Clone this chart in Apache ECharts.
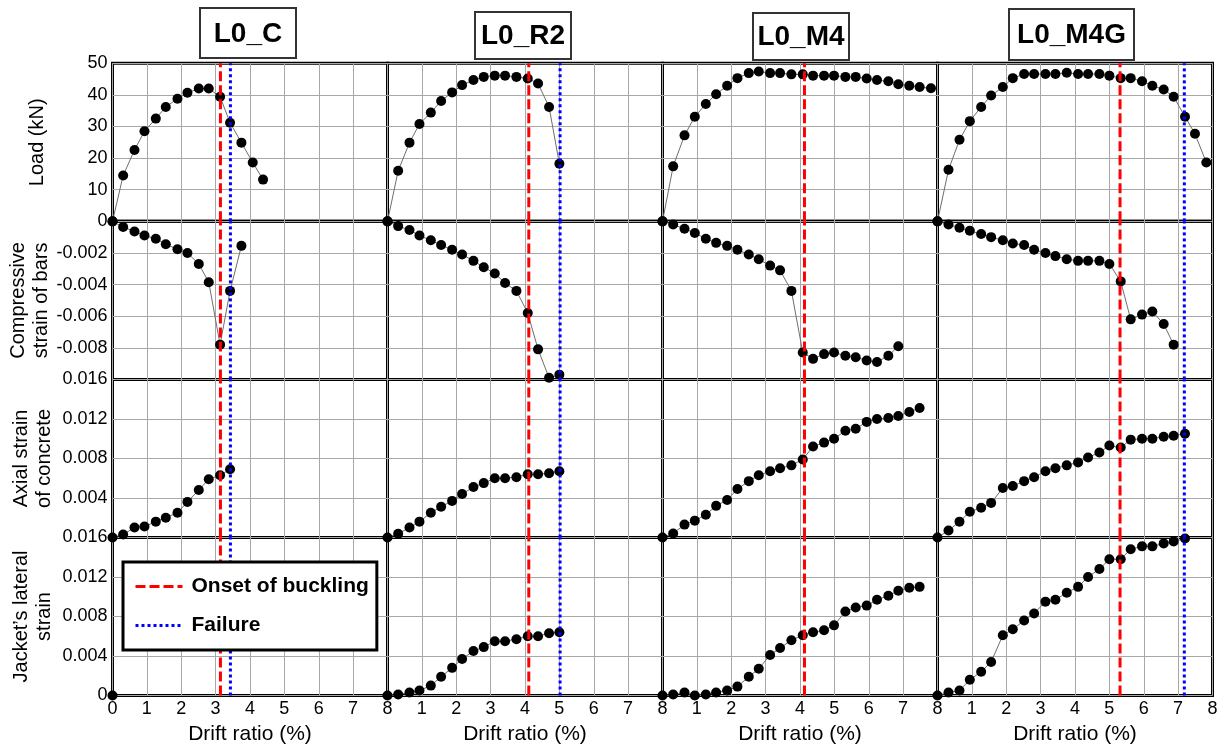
<!DOCTYPE html>
<html><head><meta charset="utf-8">
<script src="https://cdn.jsdelivr.net/npm/echarts@6/dist/echarts.min.js"></script>
<style>html,body{margin:0;padding:0;background:#fff}#c{width:1225px;height:753px}</style>
</head><body><div id="c"></div><script>
// ---------- data ----------
const specimens = ['L0_C', 'L0_R2', 'L0_M4', 'L0_M4G'];
const rowNames = ['Load (kN)', 'Compressive\nstrain of bars', 'Axial strain\nof concrete', 'Jacket\u2019s lateral\nstrain'];
const xTicks = [0, 1, 2, 3, 4, 5, 6, 7, 8];

const driftC = [0, 0.31, 0.64, 0.93, 1.26, 1.55, 1.89, 2.18, 2.51, 2.80, 3.13, 3.42, 3.75, 4.08, 4.38];
const loadC = [0, 14.5, 22.6, 28.5, 32.5, 36.2, 38.8, 40.7, 42.0, 42.0, 39.4, 31.2, 24.9, 18.6, 13.2];
const barC = [0, -0.00036, -0.00064, -0.0009, -0.0011, -0.00145, -0.00176, -0.002, -0.0027, -0.00385, -0.0078, -0.0044, -0.00155];
const concC = [0, 0.0003, 0.001, 0.0011, 0.0016, 0.002, 0.0025, 0.0036, 0.0048, 0.0059, 0.0063, 0.0069];
const jackC = [0];

const driftR2 = [0, 0.31, 0.64, 0.93, 1.26, 1.56, 1.88, 2.17, 2.50, 2.80, 3.12, 3.42, 3.75, 4.08, 4.38, 4.70, 5.00];
const loadR2 = [0, 16.0, 24.9, 30.8, 34.4, 38.1, 40.8, 43.1, 44.7, 45.7, 46.1, 46.1, 45.7, 45.2, 43.6, 36.2, 18.2];
const barR2 = [0, -0.0003, -0.00055, -0.0009, -0.0012, -0.0015, -0.0018, -0.0021, -0.0025, -0.0029, -0.0033, -0.0039, -0.0044, -0.0058, -0.0081, -0.0099, -0.0097];
const concR2 = [0, 0.00037, 0.001, 0.0016, 0.0025, 0.0031, 0.0037, 0.0044, 0.0051, 0.0055, 0.0060, 0.0060, 0.0061, 0.0064, 0.0064, 0.0065, 0.0067];
const jackR2 = [0, 0.0001, 0.0003, 0.0005, 0.001, 0.0019, 0.0028, 0.0037, 0.0045, 0.0049, 0.0055, 0.0055, 0.0057, 0.006, 0.006, 0.0063, 0.0064];

const driftM4 = [0, 0.31, 0.64, 0.94, 1.26, 1.56, 1.88, 2.18, 2.51, 2.80, 3.13, 3.42, 3.75, 4.08, 4.38, 4.70, 4.99, 5.32, 5.62, 5.94, 6.24, 6.57, 6.86, 7.18, 7.48, 7.81];
const loadM4 = [0, 17.4, 27.2, 33.1, 37.1, 40.2, 42.9, 45.3, 46.9, 47.4, 46.9, 46.9, 46.5, 46.5, 46.1, 46.1, 46.1, 45.7, 45.7, 45.2, 44.7, 44.3, 43.4, 42.9, 42.5, 42.1];
const barM4 = [0, -0.0002, -0.00047, -0.00074, -0.0011, -0.00136, -0.00155, -0.0018, -0.0021, -0.0024, -0.0028, -0.0031, -0.0044, -0.0083, -0.0087, -0.0084, -0.0083, -0.0085, -0.0086, -0.0088, -0.0089, -0.0085, -0.0079];
const concM4 = [0, 0.0004, 0.0013, 0.0017, 0.0023, 0.0032, 0.0038, 0.0049, 0.0057, 0.0063, 0.0067, 0.0070, 0.0073, 0.0079, 0.0092, 0.0096, 0.0100, 0.0108, 0.0110, 0.0117, 0.0120, 0.0121, 0.0123, 0.0127, 0.0131];
const jackM4 = [0, 0.0001, 0.0003, 0, 0.0001, 0.0003, 0.0005, 0.0009, 0.0019, 0.0027, 0.0041, 0.0048, 0.0056, 0.0061, 0.0064, 0.0066, 0.0071, 0.0085, 0.0089, 0.0091, 0.0097, 0.0101, 0.0106, 0.0109, 0.0110];

const driftM4G = [0, 0.32, 0.64, 0.94, 1.27, 1.56, 1.90, 2.19, 2.52, 2.81, 3.14, 3.43, 3.76, 4.09, 4.38, 4.71, 5.00, 5.33, 5.62, 5.95, 6.25, 6.58, 6.87, 7.20, 7.49, 7.82];
const loadM4G = [0, 16.3, 25.8, 31.7, 36.2, 39.8, 42.5, 45.3, 46.6, 46.6, 46.6, 46.6, 47.0, 46.6, 46.6, 46.6, 46.1, 45.3, 45.3, 44.3, 42.9, 41.7, 39.4, 33.1, 27.7, 18.6];
const barM4G = [0, -0.0002, -0.0004, -0.0006, -0.0008, -0.001, -0.0012, -0.0014, -0.0015, -0.0018, -0.002, -0.0022, -0.0024, -0.0025, -0.0025, -0.0025, -0.0027, -0.0038, -0.0062, -0.0059, -0.0057, -0.0065, -0.0078];
const concM4G = [0, 0.0007, 0.0016, 0.0026, 0.003, 0.0035, 0.005, 0.0052, 0.0057, 0.0061, 0.0067, 0.007, 0.0073, 0.0076, 0.0081, 0.0086, 0.0093, 0.0091, 0.0099, 0.0100, 0.0100, 0.0102, 0.0103, 0.0105];
const jackM4G = [0, 0.0003, 0.0005, 0.0016, 0.0024, 0.0034, 0.0061, 0.0067, 0.0076, 0.0083, 0.0095, 0.0097, 0.0104, 0.011, 0.012, 0.0128, 0.0138, 0.0138, 0.0148, 0.0151, 0.0151, 0.0154, 0.0156, 0.0159];

const bucklingDrift = [3.14, 4.11, 4.13, 5.31];
const failureDrift = [3.43, 5.02, null, 7.18];

const yMin = [0, -0.01, 0, 0];
const yMax = [50, 0, 0.016, 0.016];
const yStep = [10, 0.002, 0.004, 0.004];

const drifts = [driftC, driftR2, driftM4, driftM4G];
const values = [
  [loadC, barC, concC, jackC],
  [loadR2, barR2, concR2, jackR2],
  [loadM4, barM4, concM4, jackM4],
  [loadM4G, barM4G, concM4G, jackM4G]
];

// ---------- layout ----------
const FONT = '"Liberation Sans", Arial, sans-serif';
const L0 = 112.5, CW = 275, T0 = 63.3, RH = 158.05;

const yFmt = [
  v => String(Math.round(v)),
  v => { const t = Math.round(v * 1000) / 1000; return (t === 0 || t <= -0.01) ? '' : t.toFixed(3); },
  v => { const t = Math.round(v * 1000) / 1000; return t === 0 ? '' : t.toFixed(3); },
  v => { const t = Math.round(v * 1000) / 1000; return t === 0 ? '0' : t.toFixed(3); }
];

const grids = [], xAxes = [], yAxes = [], series = [];
for (let r = 0; r < 4; r++) {
  for (let c = 0; c < 4; c++) {
    const g = r * 4 + c;
    grids.push({ left: L0 + CW * c, top: T0 + RH * r, width: CW, height: RH,
      show: true, borderColor: '#000', borderWidth: 3, backgroundColor: 'transparent' });
    xAxes.push({
      type: 'value', gridIndex: g, min: xTicks[0], max: xTicks[xTicks.length - 1], interval: 1,
      axisLine: { show: false }, axisTick: { show: false },
      splitLine: { show: true, lineStyle: { color: '#a8a8a8', width: 1 } },
      axisLabel: { show: r === 3, fontFamily: FONT, fontSize: 18, color: '#000', margin: 5,
        showMinLabel: true, showMaxLabel: true,
        formatter: v => (c > 0 && v === 0) ? '' : String(v) },
      name: r === 3 ? 'Drift ratio (%)' : '', nameLocation: 'middle', nameGap: 28,
      nameTextStyle: { fontFamily: FONT, fontSize: 21, color: '#000' }
    });
    yAxes.push({
      type: 'value', gridIndex: g, min: yMin[r], max: yMax[r], interval: yStep[r],
      axisLine: { show: false }, axisTick: { show: false },
      splitLine: { show: true, lineStyle: { color: '#a8a8a8', width: 1 } },
      axisLabel: { show: c === 0, fontFamily: FONT, fontSize: 18, color: '#000', margin: 5,
        showMinLabel: true, showMaxLabel: true, formatter: yFmt[r] },
      name: c === 0 ? rowNames[r] : '', nameLocation: 'middle', nameRotate: 90,
      nameGap: r === 0 ? 64 : 57,
      nameTextStyle: { fontFamily: FONT, fontSize: 20, color: '#000', lineHeight: 23, align: 'center' }
    });
    const d = drifts[c], vals = values[c][r];
    series.push({
      type: 'line', xAxisIndex: g, yAxisIndex: g, z: 3,
      data: vals.map((v, i) => [d[i], v]),
      symbol: 'circle', symbolSize: 10, showSymbol: true,
      itemStyle: { color: '#000' },
      lineStyle: { color: '#6e6e6e', width: 1 },
      silent: true, animation: false
    });
    series.push({
      name: 'Onset of buckling', type: 'line', xAxisIndex: g, yAxisIndex: g, z: 5,
      data: [[bucklingDrift[c], yMin[r]], [bucklingDrift[c], yMax[r]]],
      symbol: 'none', itemStyle: { color: '#ff0000' },
      lineStyle: { color: '#ff0000', width: 3, type: [10, 4] }, silent: true, animation: false
    });
    if (failureDrift[c] !== null) {
      series.push({
        name: 'Failure', type: 'line', xAxisIndex: g, yAxisIndex: g, z: 5,
        data: [[failureDrift[c], yMin[r]], [failureDrift[c], yMax[r]]],
        symbol: 'none', itemStyle: { color: '#0000ff' },
        lineStyle: { color: '#0000ff', width: 3, type: [3, 3] }, silent: true, animation: false
      });
    }
  }
}

const titleBoxes = [
  { x: 199, y: 7, w: 96, h: 50 },
  { x: 474, y: 11, w: 96, h: 47 },
  { x: 752, y: 12, w: 96, h: 47 },
  { x: 1008, y: 8, w: 125, h: 51 }
];
const graphics = specimens.map((s, i) => {
  const b = titleBoxes[i];
  return {
    type: 'group', left: b.x, top: b.y, children: [
      { type: 'rect', shape: { x: 0, y: 0, width: b.w, height: b.h },
        style: { fill: '#fff', stroke: '#333', lineWidth: 2 } },
      { type: 'text', x: b.w / 2, y: b.h / 2 + 1,
        style: { text: s, font: 'bold 28px ' + FONT, fill: '#000', align: 'center', verticalAlign: 'middle' } }
    ]
  };
});

const chart = echarts.init(document.getElementById('c'), null, { renderer: 'canvas' });
chart.setOption({
  animation: false,
  backgroundColor: '#fff',
  grid: grids, xAxis: xAxes, yAxis: yAxes, series: series,
  graphic: graphics,
  legend: {
    data: ['Onset of buckling', 'Failure'], orient: 'vertical', left: 123, top: 562,
    backgroundColor: '#fff', borderColor: '#000', borderWidth: 3,
    padding: [14, 8, 14, 11], itemGap: 18, itemWidth: 47, itemHeight: 18, z: 20,
    selectedMode: false,
    itemStyle: { opacity: 0 },
    lineStyle: { width: 3 },
    textStyle: { fontFamily: FONT, fontSize: 21, fontWeight: 'bold', color: '#000', padding: [0, 0, 0, 4] }
  }
});
</script></body></html>
